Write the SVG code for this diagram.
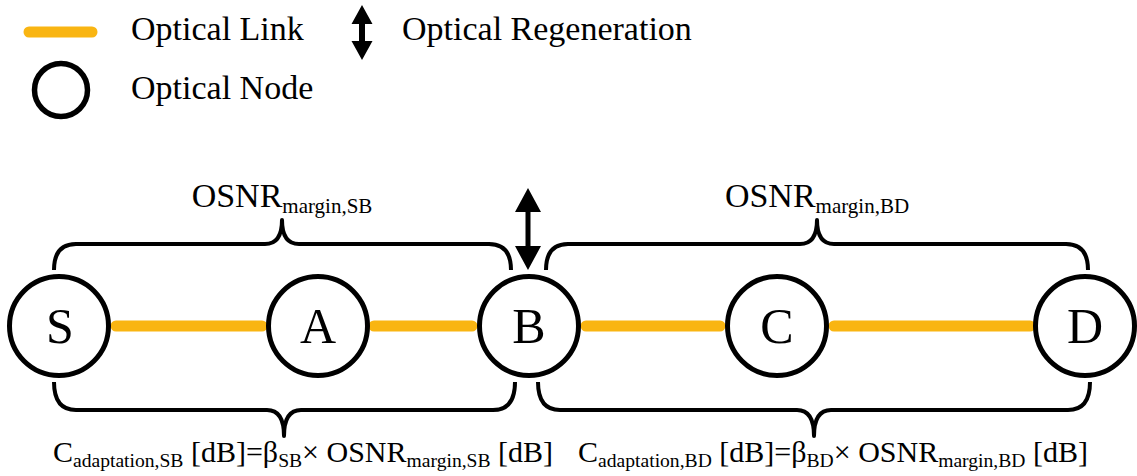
<svg xmlns="http://www.w3.org/2000/svg" width="1137" height="476" viewBox="0 0 1137 476">
<style>
text{font-family:"Liberation Serif","Times New Roman",serif;fill:#000}
.lg{font-size:34px}
.lbl{font-size:50px;text-anchor:middle}
.os{font-size:34px;text-anchor:middle}
.fm{font-size:30px;text-anchor:middle}
.sub{font-size:21px}
.fs{font-size:19.6px}
.node{fill:#fff;stroke:#000;stroke-width:5}
.link{stroke:#F9B512;stroke-width:11;stroke-linecap:round;fill:none}
.brace{fill:none;stroke:#000;stroke-width:4;stroke-linejoin:round}
.arr{fill:#000}
</style>
<rect width="1137" height="476" fill="#fff"/>
<g id="legend">
<line class="link" x1="29" y1="32" x2="92" y2="32"/>
<text class="lg" x="131" y="40">Optical Link</text>
<circle cx="61" cy="90" r="26.5" fill="#fff" stroke="#000" stroke-width="5.5"/>
<text class="lg" x="131" y="99">Optical Node</text>
<path class="arr" d="M362,5 L372.5,24 L365,24 L365,41 L372.5,41 L362,60 L351.5,41 L359,41 L359,24 L351.5,24 Z"/>
<text class="lg" x="402" y="40">Optical Regeneration</text>
</g>
<g id="connectors">
<line class="link" x1="116" y1="326" x2="262" y2="326"/>
<line class="link" x1="374" y1="326" x2="472" y2="326"/>
<line class="link" x1="586" y1="326" x2="720" y2="326"/>
<line class="link" x1="834" y1="326" x2="1030" y2="326"/>
</g>
<g id="braces">
<path class="brace" d="M54,270 Q54,244 76,244 L265,244 Q282,244 282,220 Q282,244 299,244 L489,244 Q511,244 511,270"/>
<path class="brace" d="M546,270 Q546,244 568,244 L800,244 Q817,244 817,220 Q817,244 834,244 L1066,244 Q1088,244 1088,270"/>
<path class="brace" d="M54,382 Q54,410 76,410 L267,410 Q284,410 284,436 Q284,410 301,410 L493,410 Q515,410 515,382"/>
<path class="brace" d="M538,382 Q538,410 560,410 L797,410 Q814,410 814,436 Q814,410 831,410 L1068,410 Q1090,410 1090,382"/>
</g>
<g id="regeneration">
<path class="arr" d="M528,188 L541,212 L530.5,212 L530.5,246 L541,246 L528,270 L515,246 L525.5,246 L525.5,212 L515,212 Z"/>
</g>
<g id="node-S"><circle class="node" cx="59" cy="326" r="49.5"/><text class="lbl" x="60" y="343">S</text></g>
<g id="node-A"><circle class="node" cx="318" cy="326" r="49.5"/><text class="lbl" x="318" y="343">A</text></g>
<g id="node-B"><circle class="node" cx="529" cy="326" r="49.5"/><text class="lbl" x="529" y="343">B</text></g>
<g id="node-C"><circle class="node" cx="777" cy="326" r="49.5"/><text class="lbl" x="777" y="343">C</text></g>
<g id="node-D"><circle class="node" cx="1085" cy="326" r="49.5"/><text class="lbl" x="1085" y="343">D</text></g>
<g id="labels">
<text class="os" x="282" y="207">OSNR<tspan class="sub" dy="6">margin,SB</tspan></text>
<text class="os" x="817" y="207">OSNR<tspan class="sub" dy="6">margin,BD</tspan></text>
<text class="fm" x="303" y="462">C<tspan class="fs" dy="5">adaptation,SB</tspan><tspan dy="-5"> [dB]=β</tspan><tspan class="fs" dy="5">SB</tspan><tspan dy="-5">× OSNR</tspan><tspan class="fs" dy="5">margin,SB</tspan><tspan dy="-5"> [dB]</tspan></text>
<text class="fm" x="833" y="462">C<tspan class="fs" dy="5">adaptation,BD</tspan><tspan dy="-5"> [dB]=β</tspan><tspan class="fs" dy="5">BD</tspan><tspan dy="-5">× OSNR</tspan><tspan class="fs" dy="5">margin,BD</tspan><tspan dy="-5"> [dB]</tspan></text>
</g>
</svg>
